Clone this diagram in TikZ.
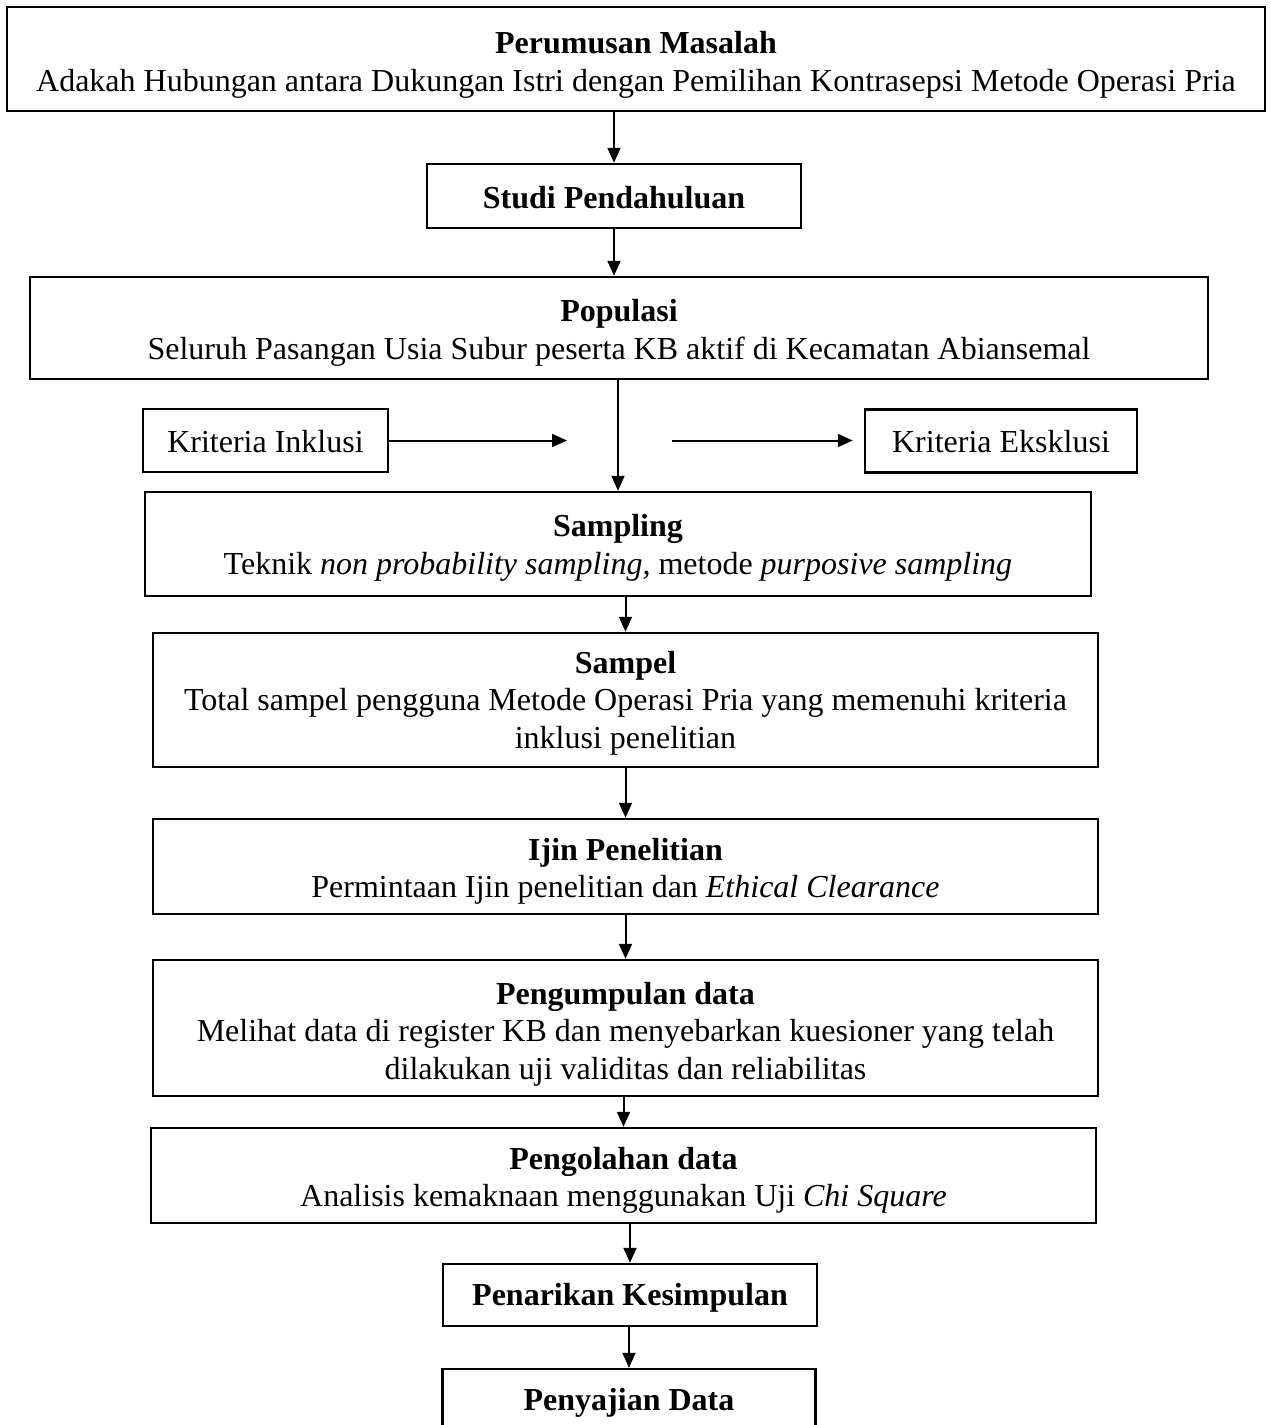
\documentclass[tikz,border=0pt]{standalone}
\usepackage{fontspec}
\setmainfont{Liberation Serif}
\usetikzlibrary{arrows.meta}
\tikzset{
  boxnode/.style={draw, line width=2.5pt, inner sep=0pt},
  txt/.style={inner sep=0pt, align=center, font=\fontsize{32}{37.5}\selectfont},
  arr/.style={line width=2pt, -{Triangle[length=15pt,width=13pt]}},
  thinarr/.style={line width=1.5pt, -{Triangle[length=15pt,width=13pt]}},
}
\begin{document}
\begin{tikzpicture}[x=1pt,y=-1pt]
\useasboundingbox (0,0) rectangle (1270,1425);
% boxes
\node[boxnode, minimum width=1258pt, minimum height=104pt] (b1) at (636,59) {};
\node[boxnode, minimum width=374pt, minimum height=64pt] (b2) at (614,196) {};
\node[boxnode, minimum width=1178pt, minimum height=102pt] (b3) at (619,328) {};
\node[boxnode, minimum width=245pt, minimum height=63pt] (ink) at (265.5,440.5) {};
\node[boxnode, minimum width=272pt, minimum height=63pt] (eks) at (1001,441) {};
\node[boxnode, minimum width=946pt, minimum height=104pt] (samp) at (618,544) {};
\node[boxnode, minimum width=945pt, minimum height=134pt] (sampel) at (625.5,700) {};
\node[boxnode, minimum width=945pt, minimum height=95pt] (ijin) at (625.5,866.5) {};
\node[boxnode, minimum width=945pt, minimum height=136pt] (kumpul) at (625.5,1028) {};
\node[boxnode, minimum width=945pt, minimum height=95pt] (olah) at (623.5,1175.5) {};
\node[boxnode, minimum width=374pt, minimum height=62pt] (tarik) at (630,1295) {};
\node[boxnode, minimum width=373pt, minimum height=64pt] (saji) at (629,1401) {};
% texts
\node[txt] (t1) at ([yshift=-6pt]b1.center)
  {\textbf{Perumusan Masalah}\\Adakah Hubungan antara Dukungan Istri dengan Pemilihan Kontrasepsi Metode Operasi Pria};
\node[txt] (t2) at ([yshift=-2pt]b2.center) {\textbf{Studi Pendahuluan}};
\node[txt] (t3) at ([yshift=-5pt]b3.center)
  {\textbf{Populasi}\\Seluruh Pasangan Usia Subur peserta KB aktif di Kecamatan Abiansemal};
\node[txt] (t4) at ([yshift=-1pt]ink.center) {Kriteria Inklusi};
\node[txt] (t5) at ([yshift=-1pt]eks.center) {Kriteria Eksklusi};
\node[txt] (t6) at ([yshift=-4pt]samp.center)
  {\textbf{Sampling}\\Teknik \textit{non probability sampling,} metode \textit{purposive sampling}};
\node[txt] (t7) at ([yshift=-3pt]sampel.center)
  {\textbf{Sampel}\\Total sampel pengguna Metode Operasi Pria yang memenuhi kriteria\\inklusi penelitian};
\node[txt] (t8) at ([yshift=-5pt]ijin.center)
  {\textbf{Ijin Penelitian}\\Permintaan Ijin penelitian dan \textit{Ethical Clearance}};
\node[txt] (t9) at ([yshift=-6pt]kumpul.center)
  {\textbf{Pengumpulan data}\\Melihat data di register KB dan menyebarkan kuesioner yang telah\\dilakukan uji validitas dan reliabilitas};
\node[txt] (t10) at ([yshift=-5pt]olah.center)
  {\textbf{Pengolahan data}\\Analisis kemaknaan menggunakan Uji \textit{Chi Square}};
\node[txt] (t11) at ([yshift=-3pt]tarik.center) {\textbf{Penarikan Kesimpulan}};
\node[txt] (t12) at ([yshift=-2pt]saji.center) {\textbf{Penyajian Data}};
% connectors
\coordinate (cin) at (567,440.5);
\coordinate (cex) at (672,440.5);
\draw[arr] (b1.south -| b2.north) -- (b2.north);
\draw[arr] (b2.south) -- (b2.south |- b3.north);
\draw[thinarr] (b3.south -| samp.north) -- (samp.north);
\draw[arr] (ink.east) -- (cin);
\draw[arr, shorten >=11pt] (cex) -- (cex -| eks.west);
\draw[arr] (samp.south -| sampel.north) -- (sampel.north);
\draw[arr] (sampel.south) -- (ijin.north);
\draw[arr] (ijin.south) -- (kumpul.north);
\draw[arr] (kumpul.south -| olah.north) -- (olah.north);
\draw[arr] (olah.south -| tarik.north) -- (tarik.north);
\draw[arr] (tarik.south -| saji.north) -- (saji.north);
\end{tikzpicture}
\end{document}
